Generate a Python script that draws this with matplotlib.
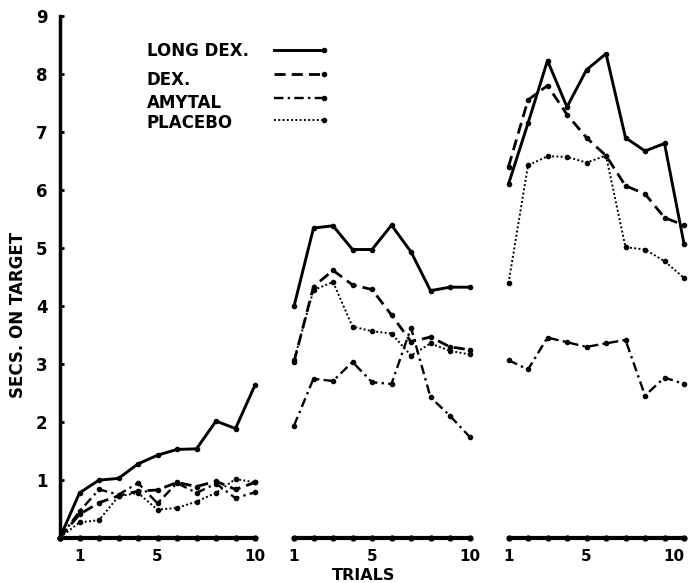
import matplotlib
matplotlib.use("Agg")
import matplotlib.pyplot as plt
import numpy as np

# Trials per session; first session starts from the origin (trial 0)
trials_1 = [0, 1, 2, 3, 4, 5, 6, 7, 8, 9, 10]
trials_23 = [1, 2, 3, 4, 5, 6, 7, 8, 9, 10]
session_offsets = [0, 11, 22]   # gap between the three sessions on one axis

# Seconds on target, session 1
long_dex_1 = [0, 0.77, 0.99, 1.02, 1.27, 1.42, 1.52, 1.53, 2.01, 1.88, 2.63]
dex_1 = [0, 0.40, 0.60, 0.72, 0.80, 0.82, 0.95, 0.88, 0.97, 0.83, 0.95]
amytal_1 = [0, 0.45, 0.83, 0.74, 0.94, 0.59, 0.94, 0.77, 0.93, 0.68, 0.78]
placebo_1 = [0, 0.26, 0.30, 0.71, 0.77, 0.48, 0.51, 0.62, 0.77, 1.01, 0.95]

# Session 2
long_dex_2 = [3.99, 5.34, 5.38, 4.97, 4.97, 5.39, 4.93, 4.26, 4.32, 4.32]
dex_2 = [3.03, 4.33, 4.61, 4.36, 4.28, 3.84, 3.38, 3.46, 3.29, 3.24]
amytal_2 = [1.93, 2.74, 2.70, 3.03, 2.68, 2.65, 3.62, 2.42, 2.10, 1.74]
placebo_2 = [3.06, 4.27, 4.41, 3.64, 3.56, 3.52, 3.14, 3.35, 3.22, 3.16]

# Session 3
long_dex_3 = [6.10, 7.15, 8.23, 7.43, 8.07, 8.35, 6.90, 6.67, 6.80, 5.07]
dex_3 = [6.40, 7.55, 7.80, 7.30, 6.90, 6.59, 6.07, 5.93, 5.52, 5.39]
amytal_3 = [3.06, 2.90, 3.45, 3.37, 3.29, 3.35, 3.41, 2.45, 2.76, 2.65]
placebo_3 = [4.39, 6.42, 6.58, 6.57, 6.47, 6.59, 5.01, 4.97, 4.77, 4.48]

labels = ["LONG DEX.", "DEX.", "AMYTAL", "PLACEBO"]
series = {
    "LONG DEX.": [long_dex_1, long_dex_2, long_dex_3],
    "DEX.": [dex_1, dex_2, dex_3],
    "AMYTAL": [amytal_1, amytal_2, amytal_3],
    "PLACEBO": [placebo_1, placebo_2, placebo_3],
}
styles = {
    "LONG DEX.": dict(linestyle="-", linewidth=2.1),
    "DEX.": dict(linestyle=(0, (4, 2.2)), linewidth=2.0),
    "AMYTAL": dict(linestyle=(0, (4, 1.8, 1, 1.8)), linewidth=1.7),
    "PLACEBO": dict(linestyle=(0, (1, 1.2)), linewidth=1.4),
}

plt.rcParams["font.family"] = "DejaVu Sans"
plt.rcParams["font.weight"] = "bold"

W, H = 691, 583
fig = plt.figure(figsize=(W / 100, H / 100), dpi=100)
ax = fig.add_axes([60 / W, 45.5 / H, 629 / W, 521.5 / H])
ax.set_xlim(0, 629 / 19.5)
ax.set_ylim(0, 9)

trial_sets = [trials_1, trials_23, trials_23]

for name in labels:
    for s in range(3):
        x = np.array(trial_sets[s]) + session_offsets[s]
        ax.plot(x, series[name][s], color="black", marker="o", markersize=3,
                clip_on=False, solid_capstyle="round", **styles[name])

# Baseline for each session with a dot at every trial
for s in range(3):
    x = np.array(trial_sets[s]) + session_offsets[s]
    ax.plot(x, np.zeros(len(x)), color="black", linewidth=3, marker="o",
            markersize=3.5, clip_on=False, solid_capstyle="round")

# Legend drawn by hand: label on the left, line sample on the right
legend_text_y = [0.932, 0.877, 0.833, 0.794]
legend_line_y = [0.934, 0.888, 0.842, 0.800]
for name, ty, ly in zip(labels, legend_text_y, legend_line_y):
    ax.text(0.138, ty, name, transform=ax.transAxes, fontsize=12,
            fontweight="bold", va="center", ha="left")
    ax.plot([0.341, 0.419], [ly, ly], transform=ax.transAxes, color="black",
            marker="o", markersize=3, markevery=[1], clip_on=False,
            **styles[name])

ax.spines["top"].set_visible(False)
ax.spines["right"].set_visible(False)
ax.spines["bottom"].set_visible(False)
ax.spines["left"].set_linewidth(2.5)

ax.set_yticks(range(1, 10))
ax.set_yticklabels([str(v) for v in range(1, 10)], fontsize=12, fontweight="bold")
ax.tick_params(axis="y", direction="in", length=3, width=2, pad=9)

xt = [1, 5, 10, 12, 16, 21, 23, 27, 32]
xl = ["1", "5", "10"] * 3
ax.set_xticks(xt)
ax.set_xticklabels(xl, fontsize=11, fontweight="bold")
ax.tick_params(axis="x", length=0, pad=8)
# last label sits against the right edge, keep it inside the figure
ax.get_xticklabels()[-1].set_horizontalalignment("right")
ax.get_xticklabels()[-1].set_x(32.45)

ax.set_ylabel("SECS. ON TARGET", fontsize=12, fontweight="bold")
ax.yaxis.set_label_coords(-0.0525, 0.427)
fig.text(364 / W, 1 - 576 / H, "TRIALS", fontsize=11.5, fontweight="bold",
         ha="center", va="center")

fig.savefig("out.png", dpi=100)
